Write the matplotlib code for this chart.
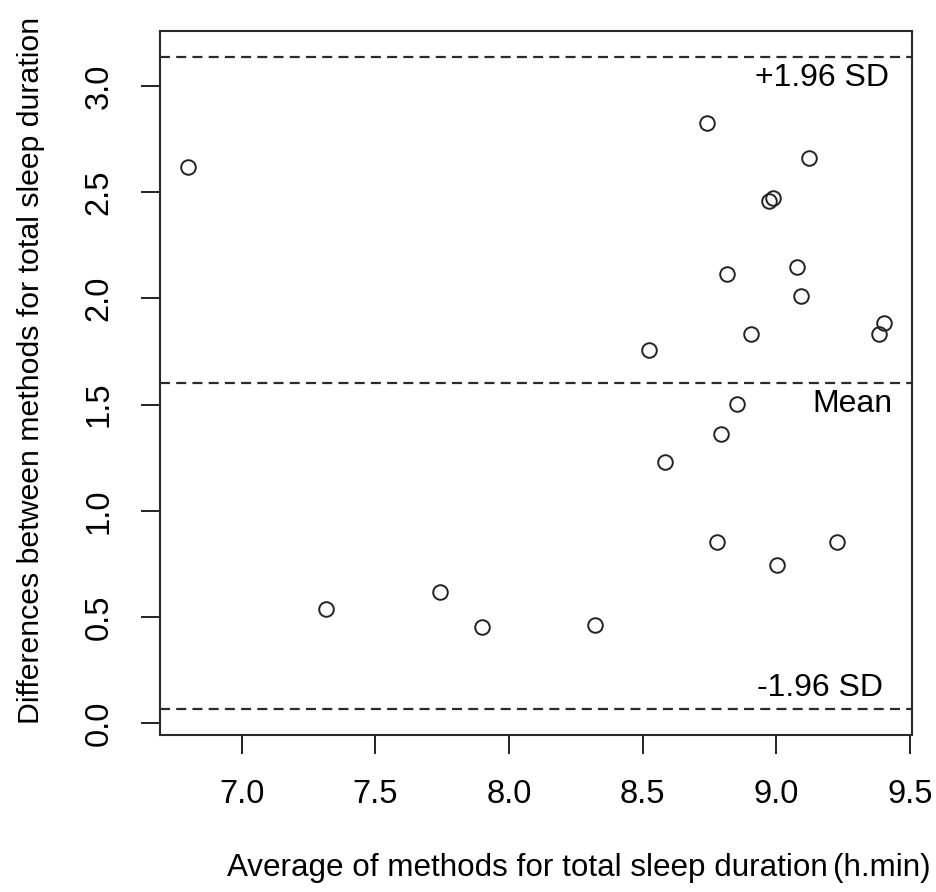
import numpy as np
import matplotlib
matplotlib.use("Agg")
import matplotlib.pyplot as plt

# Bland-Altman data
avg = [6.799, 7.316, 7.743, 7.901, 8.321, 8.523, 8.583, 8.742, 8.777, 8.795, 8.817,
       8.852, 8.907, 8.973, 8.988, 9.004, 9.079, 9.092, 9.124, 9.229, 9.385, 9.404]
diff = [2.617, 0.536, 0.619, 0.452, 0.461, 1.759, 1.230, 2.825, 0.854, 1.364, 2.117,
        1.505, 1.834, 2.461, 2.472, 0.745, 2.148, 2.011, 2.662, 0.854, 1.834, 1.884]
xticks = [7.0, 7.5, 8.0, 8.5, 9.0, 9.5]
yticks = [0.0, 0.5, 1.0, 1.5, 2.0, 2.5, 3.0]

mean_d = np.mean(diff)
sd_d = np.std(diff, ddof=1)
upper = mean_d + 1.96 * sd_d
lower = mean_d - 1.96 * sd_d

plt.rcParams['font.family'] = ['Liberation Sans', 'DejaVu Sans']
fs = 23
ink = '#222222'

fig = plt.figure(figsize=(9.37, 8.92), dpi=100)
ax = fig.add_axes([160/937, 1-735/892, (912-160)/937, (735-31)/892])

ax.plot(avg, diff, 'o', mfc='none', mec=ink, ms=10.5, mew=1.4, ls='none')

for v in (upper, mean_d, lower):
    ax.axhline(v, color='#2a2a2a', lw=1.6, ls=(0, (4.5, 2.8)))

# R style 4% padding
xr = max(avg) - min(avg)
ax.set_xlim(min(avg) - 0.04*xr, max(avg) + 0.04*xr)
yr = upper - lower
ax.set_ylim(lower - 0.04*yr, upper + 0.04*yr)

ax.set_xticks(xticks)
ax.set_xticklabels([f'{t:.1f}' for t in xticks], fontsize=23.5)
ax.set_yticks(yticks)
ax.set_yticklabels([f'{t:.1f}' for t in yticks], fontsize=23.5, rotation=90, va='center')
ax.tick_params(length=13.5, width=1.4, color=ink, direction='out')
ax.tick_params(axis='x', pad=18)
ax.tick_params(axis='y', pad=19)
for s in ax.spines.values():
    s.set_linewidth(1.5)
    s.set_color('#2a2a2a')

ax.text(9.4215, upper - 0.03, '+1.96 SD', ha='right', va='top', fontsize=fs)
ax.text(9.4365, mean_d - 0.03, 'Mean', ha='right', va='top', fontsize=fs)
ax.text(9.399, lower + 0.03, '-1.96 SD', ha='right', va='bottom', fontsize=fs)

ax.set_xlabel('Average of methods for total sleep duration', fontsize=22.6, labelpad=31)
ax.xaxis.label.set_x(0.489)
ax.set_ylabel('Differences between methods for total sleep duration', fontsize=21.8)
ax.yaxis.set_label_coords(-0.153, 0.518)

fig.canvas.draw()
bb = ax.xaxis.label.get_window_extent()
fig.text((bb.x1 + 5)/fig.bbox.width, bb.y0/fig.bbox.height, '(h.min)',
         fontsize=22.6, ha='left', va='bottom')

fig.savefig('out.png', dpi=100)
